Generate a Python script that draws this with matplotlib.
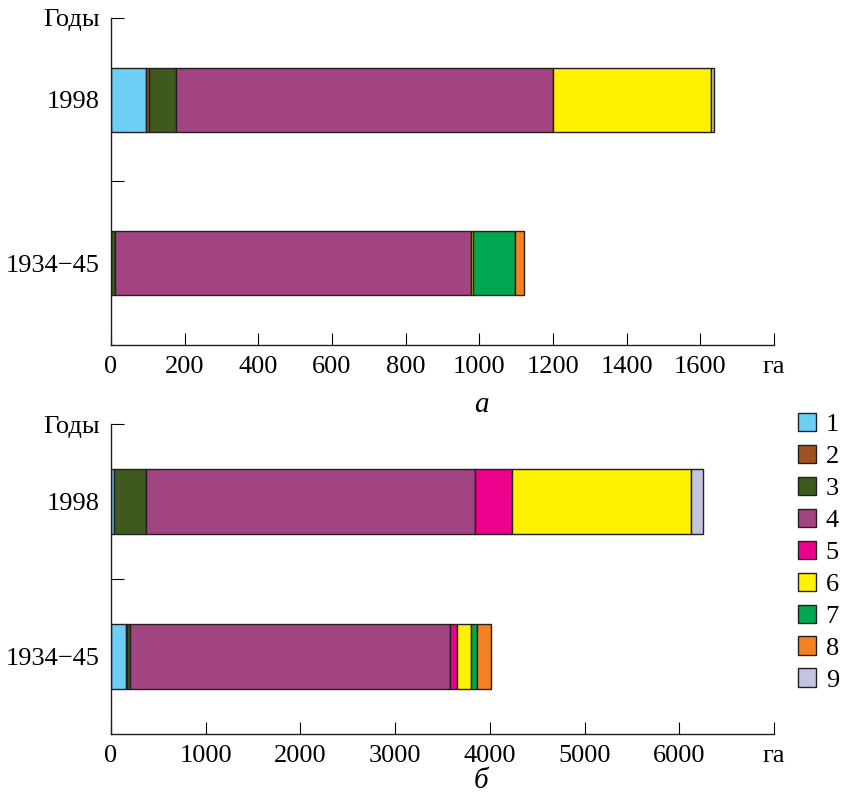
import numpy as np
import matplotlib
matplotlib.use('Agg')
import matplotlib.pyplot as plt
from matplotlib.patches import Patch

plt.rcParams['font.family'] = ['Liberation Serif', 'DejaVu Serif']
plt.rcParams['font.size'] = 19

# categories 1..9
classes = ['1', '2', '3', '4', '5', '6', '7', '8', '9']
colors = ['#6DCFF6', '#A0521E', '#3F5A1E', '#A34482', '#EC008C',
          '#FFF200', '#00A650', '#F58220', '#C4C3E0']
years = ['1934\u221245', '1998']

# panel a, ha
a_1934 = [0, 0, 10, 967, 0, 7, 112, 26, 0]
a_1998 = [95, 8, 73, 1024, 0, 430, 0, 0, 8]
# panel b, ha
b_1934 = [158, 15, 27, 3380, 74, 148, 63, 148, 0]
b_1998 = [32, 0, 338, 3474, 391, 1890, 0, 0, 127]

edge = '#231F20'


def draw(ax, rows, xmax, step, bar_h):
    for i, vals in enumerate(rows):
        left = 0
        for v, c in zip(vals, colors):
            if v > 0:
                ax.barh(i + 0.5, v, left=left, height=bar_h, color=c,
                        edgecolor=edge, linewidth=1.0)
            left += v
    ax.set_xlim(0, xmax)
    ax.set_ylim(0, 2)
    ticks = np.arange(0, xmax + 1, step)
    ax.set_xticks(ticks)
    labels = [str(int(t)) for t in ticks]
    labels[-1] = 'га'
    ax.set_xticklabels(labels)
    ax.set_yticks([1, 2])
    ax.set_yticklabels(['', 'Годы'])
    ax.set_yticks([0.5, 1.5], minor=True)
    ax.set_yticklabels(years, minor=True)
    ax.tick_params(axis='y', which='minor', length=0, pad=8)
    ax.tick_params(axis='y', which='major', direction='in', length=9, pad=8)
    ax.tick_params(axis='x', direction='in', length=9, pad=8)
    for s in ['top', 'right']:
        ax.spines[s].set_visible(False)
    for s in ['left', 'bottom']:
        ax.spines[s].set_color(edge)
        ax.spines[s].set_linewidth(1.0)


fig = plt.figure(figsize=(8.44, 7.96), dpi=100)
ax1 = fig.add_axes([0.1315, 0.5666, 0.7855, 0.4108])
ax2 = fig.add_axes([0.1315, 0.0779, 0.7855, 0.3894])

draw(ax1, [a_1934, a_1998], 1800, 200, 0.39)
draw(ax2, [b_1934, b_1998], 7000, 1000, 0.42)

fig.text(0.57, 1 - 405 / 796, 'а', style='italic', ha='center', va='center', fontsize=21)
fig.text(0.57, 1 - 781 / 796, 'б', style='italic', ha='center', va='center', fontsize=21)

handles = [Patch(facecolor=c, edgecolor=edge, linewidth=1.0) for c in colors]
fig.legend(handles, classes, loc='upper left', bbox_to_anchor=(798 / 844, 1 - 413 / 796),
           frameon=False, handlelength=0.7, handleheight=0.7, handletextpad=0.35,
           labelspacing=0.32, borderpad=0, borderaxespad=0)

fig.savefig('out.png', dpi=100)
